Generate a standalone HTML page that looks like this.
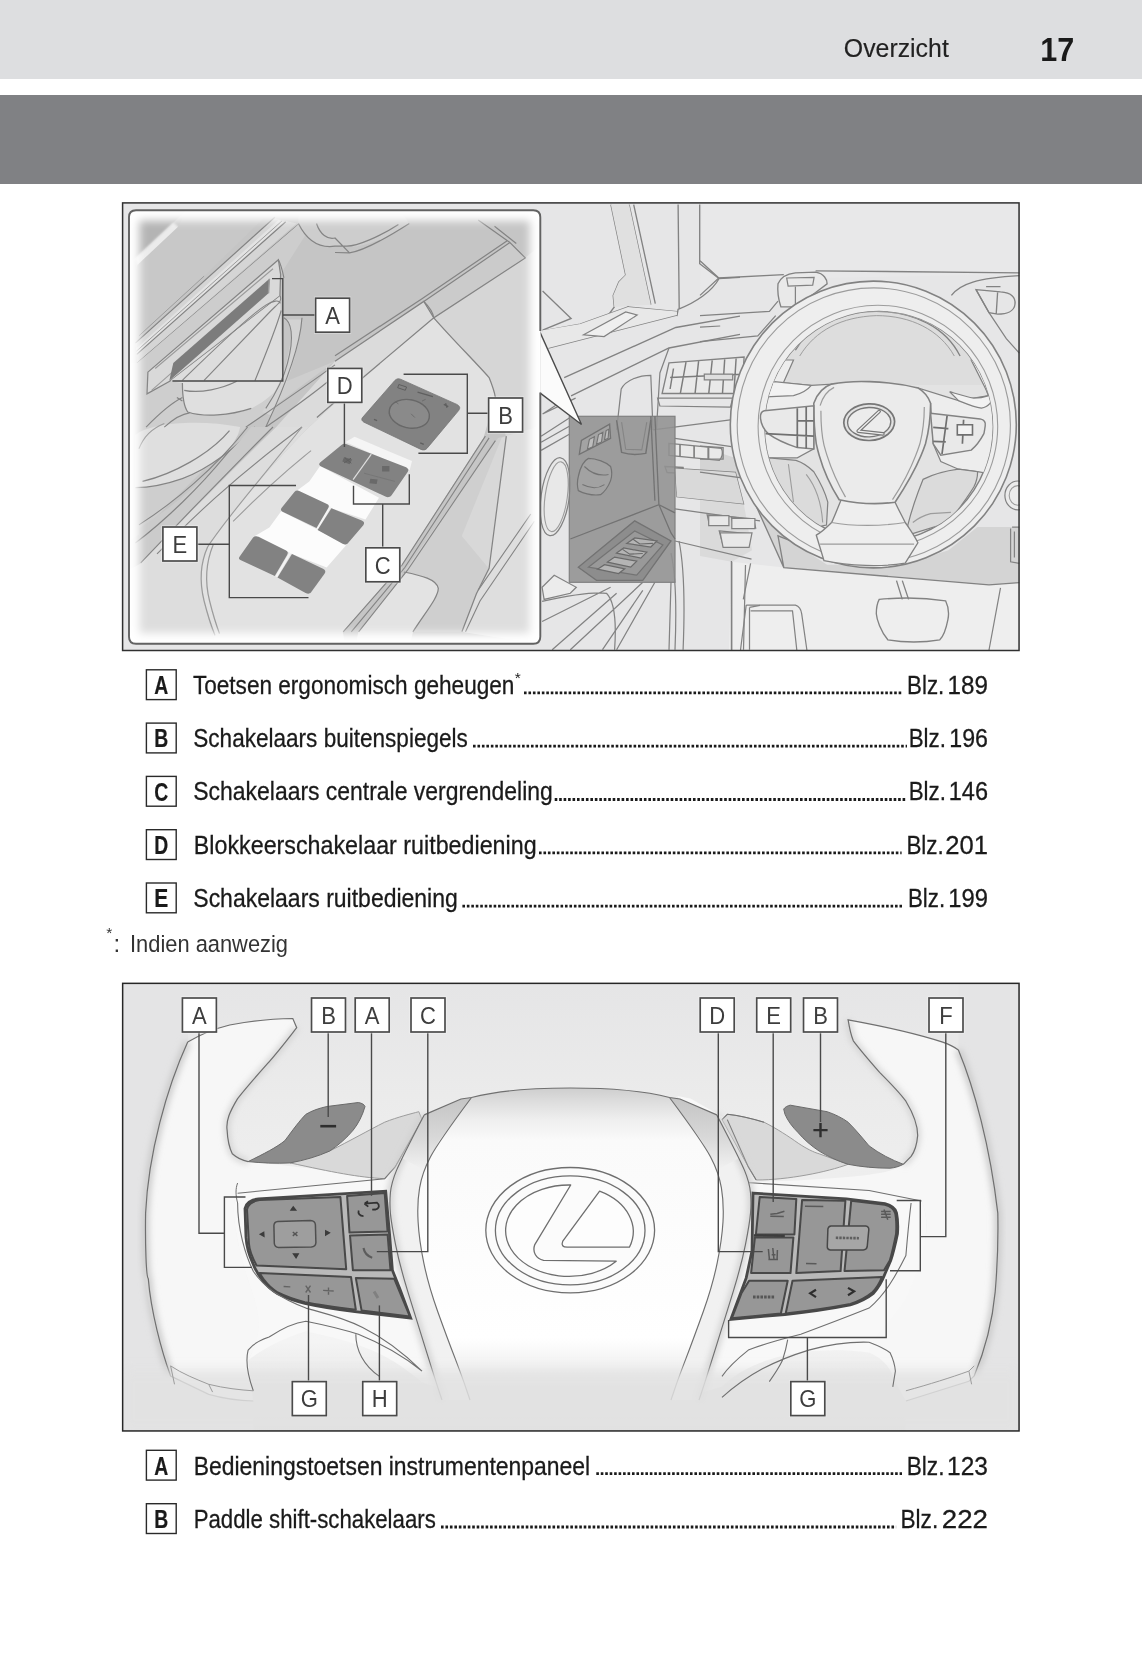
<!DOCTYPE html>
<html lang="nl">
<head>
<meta charset="utf-8">
<title>Overzicht 17</title>
<style>
html,body{margin:0;padding:0;background:#fff;}
body{width:1142px;height:1654px;position:relative;overflow:hidden;font-family:"Liberation Sans",sans-serif;color:#1a1a1a;}
.hdr1{position:absolute;left:0;top:0;width:1142px;height:78.6px;background:#dddee0;}
.hdr2{position:absolute;left:0;top:94.5px;width:1142px;height:89px;background:#808184;}
.fig{position:absolute;left:120px;width:902px;height:452px;}
.fig svg{display:block;}
#fig1{top:201px;}
#fig2{top:981px;}
</style>
</head>
<body>
<div class="hdr1"></div>
<div class="hdr2"></div>

<div class="fig" id="fig1">
<svg width="902" height="452" viewBox="120 201 902 452">
<rect x="122.6" y="202.9" width="896.45" height="447.6" fill="#e6e6e7"/>
<!--FIG1-->
<defs>
<clipPath id="f1clip"><rect x="122.6" y="202.9" width="896.45" height="447.6"/></clipPath>
<clipPath id="insclip"><rect x="129" y="210.3" width="411.3" height="433.4" rx="7" ry="7"/></clipPath>
<filter id="b2" x="-20%" y="-20%" width="140%" height="140%"><feGaussianBlur stdDeviation="2"/></filter>
<filter id="b4" x="-20%" y="-20%" width="140%" height="140%"><feGaussianBlur stdDeviation="4"/></filter>
<filter id="b1" x="-20%" y="-20%" width="140%" height="140%"><feGaussianBlur stdDeviation="1"/></filter>
<filter id="soft1" x="118" y="199" width="906" height="456" filterUnits="userSpaceOnUse"><feGaussianBlur stdDeviation="0.45"/></filter>
</defs>
<g clip-path="url(#f1clip)"><g filter="url(#soft1)">
<path d="M 702.1 203.7 L 1020.9 203.7 L 1020.9 274.2 L 775.0 278.8 L 720.4 276.5 L 699.9 294.7 Z" fill="#e8e8e9"/>
<path d="M 731.8 561.8 L 783.8 567.6 L 989.0 584.9 L 1019.3 582.6 L 1019.3 651.4 L 728.9 651.4 Z" fill="#eeeeee"/>
<path d="M 700.0 472.2 L 743.3 478.0 L 757.8 509.8 L 783.8 567.6 L 989.0 584.9 L 1019.3 582.6 L 1019.3 527.1 L 977.4 527.1 L 948.5 550.3 L 902.3 564.7 L 827.1 564.7 L 786.7 538.7 L 752.0 495.4 L 734.7 457.8 L 700.0 446.2 Z" fill="#d4d4d4"/>
<path d="M 700.0 495.4 L 743.3 501.1 L 752.0 550.3 L 731.8 561.8 L 700.0 556.0 Z" fill="#dadada"/>
<path d="M 700.0 260.7 L 718.8 278.0 L 783.8 274.6 M 815.6 270.8 L 1019.3 272.8" fill="none" stroke="#828282" stroke-width="1.34"/>
<path d="M 778.0 283.8 C 780.9 276.6 786.7 273.7 795.4 272.8 L 815.6 272.2 C 824.3 273.7 827.1 279.5 827.1 283.8 L 815.6 292.5 L 795.4 306.9 L 780.9 306.9 C 778.0 298.2 777.4 289.6 778.0 283.8 Z" fill="#e9e9e9" stroke="#828282" stroke-width="1.34"/>
<path d="M 786.7 278.0 L 814.1 277.4 L 812.7 285.2 L 788.1 286.1 Z M 795.4 286.7 L 795.4 306.3" fill="none" stroke="#828282" stroke-width="1.22"/>
<path d="M 951.4 295.4 C 960.1 283.8 977.4 278.0 1019.3 275.7 M 976.0 289.6 L 1000.5 291.9 C 1012.1 292.5 1015.6 298.2 1015.0 304.0 C 1014.4 311.3 1006.3 314.1 997.6 314.1 L 989.0 312.7 Z M 997.6 292.5 L 996.2 314.1" fill="none" stroke="#828282" stroke-width="1.34"/>
<path d="M 976.0 289.6 L 989.0 312.7 L 1006.3 338.7 L 1019.3 353.2 M 986.1 286.7 L 1000.5 286.7" fill="none" stroke="#828282" stroke-width="1.22"/>
<path d="M 700.0 315.6 L 769.4 311.3 L 778.0 301.1 M 700.0 327.1 L 720.2 326.0 M 700.0 341.6 L 757.8 335.8 L 775.7 315.6 M 718.8 278.0 L 700.0 295.4" fill="none" stroke="#828282" stroke-width="1.22"/>
<path d="M 610.9 204.6 L 625.7 275.1 L 618.9 282.0 L 613.2 295.6 L 614.3 307.0 L 607.5 316.1 M 629.1 204.6 L 650.8 304.7 M 633.7 204.6 L 655.3 303.6 M 625.7 275.1 L 631.4 279.7 L 628.0 307.0" fill="none" stroke="#828282" stroke-width="1.34"/>
<path d="M 678.1 204.6 L 679.2 309.3 M 699.7 204.6 L 699.7 263.7 L 719.1 278.5 L 740.0 277.4 M 719.1 278.5 C 712.2 291.1 696.3 302.5 678.1 309.3 L 676.9 316.1" fill="none" stroke="#828282" stroke-width="1.34"/>
<path d="M 610.9 204.6 L 625.7 275.1 L 618.9 282.0 L 613.2 295.6 L 614.3 307.0 L 650.8 304.7 L 629.1 204.6 Z" fill="#e0e0e0"/>
<path d="M 542.6 291.1 L 571.1 318.4 L 542.6 330.2 M 542.6 330.9 L 580.2 324.1 L 628.0 307.0 L 676.9 311.6 M 548.3 348.0 L 676.9 315.0 M 564.2 377.6 L 675.8 327.5 L 740.0 316.1 M 571.1 395.8 L 669.0 348.0 L 740.0 334.3" fill="none" stroke="#828282" stroke-width="1.34"/>
<path d="M 542.6 330.2 L 580.2 324.1 L 628.0 307.0 L 676.9 311.6 L 676.9 315.0 L 548.3 348.0 L 542.6 348.0 Z" fill="#e8e8e8"/>
<path d="M 583.6 334.8 L 625.7 312.0 L 637.1 315.0 L 604.1 336.6 Z" fill="#efefef" stroke="#828282" stroke-width="1.22"/>
<path d="M 542.6 414.0 L 556.3 404.9 L 542.6 393.1 M 542.6 414.0 L 575.6 398.1" fill="none" stroke="#828282" stroke-width="1.22"/>
<path d="M 616.6 429.9 L 621.2 389.0 C 625.7 379.9 639.4 375.3 650.8 375.3 L 653.0 429.9 M 656.4 429.9 L 659.9 373.0 L 669.0 348.0" fill="none" stroke="#828282" stroke-width="1.22"/>
<path d="M 669.0 362.8 L 744.1 357.1 L 741.8 393.5 L 662.1 393.5 Z" fill="#e9e9e9" stroke="#828282" stroke-width="1.34"/>
<path d="M 673.5 368.5 L 670.1 389.0 M 686.0 362.1 L 680.4 393.1 M 698.6 361.2 L 695.1 393.1 M 712.2 360.3 L 708.8 393.1 M 724.7 359.4 L 722.5 393.1 M 736.1 358.5 L 733.9 393.1 M 670.1 377.6 L 743.0 374.2" fill="none" stroke="#7c7c7c" stroke-width="1.46"/>
<path d="M 704.3 374.2 L 732.7 374.2 L 732.7 379.9 L 704.3 379.9 Z" fill="#dedede" stroke="#828282" stroke-width="1.22"/>
<path d="M 657.6 398.1 L 732.7 398.1 L 730.4 407.2 L 659.9 406.0 Z M 653.0 429.9 L 740.0 418.6" fill="none" stroke="#828282" stroke-width="1.22"/>
<path d="M 669.0 443.3 L 721.3 448.3 C 723.3 452.4 722.3 457.4 719.3 460.4 L 669.0 455.4 Z" fill="#e9e9e9" stroke="#828282" stroke-width="1.34"/>
<path d="M 680.0 444.7 L 680.0 456.4 M 694.1 445.9 L 694.1 458.0 M 708.2 447.3 L 708.2 459.2" fill="none" stroke="#7c7c7c" stroke-width="1.59"/>
<path d="M 664.9 466.5 L 683.1 467.5 L 684.1 473.5 L 667.0 472.5 Z M 675.0 468.5 L 735.4 472.5 L 743.5 503.7 L 677.0 496.7 Z" fill="none" stroke="#828282" stroke-width="1.34"/>
<path d="M 675.0 468.5 L 735.4 472.5 L 743.5 503.7 L 677.0 496.7 Z" fill="#d9d9d9"/>
<path d="M 707.2 514.8 L 727.4 515.8 L 728.4 524.9 L 709.2 523.9 Z M 731.4 516.8 L 753.6 518.8 L 755.6 527.9 L 733.4 525.9 Z M 719.3 530.9 L 749.5 533.9 L 747.5 547.0 L 723.3 546.0 Z" fill="#e9e9e9" stroke="#828282" stroke-width="1.34"/>
<path d="M 675.0 438.3 L 731.4 446.7 M 675.0 508.8 L 760.0 520.8 M 675.0 541.0 L 751.5 559.1" fill="none" stroke="#828282" stroke-width="1.22"/>
<path d="M 541.1 442.3 L 569.3 426.2 M 541.1 436.3 L 569.3 418.1 M 541.1 450.4 L 569.3 434.2" fill="none" stroke="#828282" stroke-width="1.22"/>
<ellipse cx="555.2" cy="496.7" rx="14.1" ry="39.3" fill="#e8e8e8" transform="rotate(8 555.2 496.7)" stroke="#828282" stroke-width="1.22"/>
<ellipse cx="556.2" cy="496.7" rx="11.1" ry="35.2" fill="none" transform="rotate(8 556.2 496.7)" stroke="#9c9c9c" stroke-width="1.1"/>
<path d="M 542.1 587.3 L 554.2 575.2 L 576.3 587.3 L 570.3 593.3 L 544.1 599.4 Z" fill="#ececec" stroke="#828282" stroke-width="1.22"/>
<path d="M 542.1 621.5 L 610.6 587.3 M 542.1 601.4 C 560.2 597.4 590.4 591.3 606.5 593.3 C 614.6 601.4 616.6 621.5 614.6 649.7 M 552.2 649.7 L 616.6 593.3 M 570.3 649.7 L 642.8 582.3" fill="none" stroke="#828282" stroke-width="1.22"/>
<path d="M 616.6 649.7 L 654.9 582.3 M 602.5 649.7 L 642.8 590.3 M 669.0 649.7 L 671.0 582.3 M 683.1 649.7 C 685.1 601.4 683.1 561.1 679.0 541.0 M 675.0 649.7 C 677.0 601.4 675.0 571.2 671.0 553.1" fill="none" stroke="#828282" stroke-width="1.22"/>
<path d="M 731.4 649.7 L 731.4 561.1 M 743.5 649.7 L 745.5 565.1 M 749.5 607.4 L 760.0 605.4 M 749.5 649.7 L 749.5 607.4" fill="none" stroke="#828282" stroke-width="1.22"/>
<path d="M 708.7 515.6 L 728.9 515.6 L 728.9 525.7 L 708.7 525.7 Z M 731.8 518.5 L 754.9 518.5 L 754.9 528.6 L 731.8 528.6 Z M 720.2 532.9 L 752.0 532.9 L 749.1 547.4 L 723.1 547.4 Z" fill="#e8e8e8" stroke="#828282" stroke-width="1.22"/>
<path d="M 700.0 446.2 L 723.1 447.7 L 723.1 459.2 L 700.0 459.2 M 708.7 447.7 L 708.7 459.2 M 700.0 472.2 L 743.3 478.0 L 757.8 509.8 L 783.8 567.6 L 989.0 584.9 L 1019.3 582.6 M 783.8 567.6 L 778.0 535.8 L 815.6 550.3" fill="none" stroke="#828282" stroke-width="1.34"/>
<path d="M 879.2 599.4 C 902.3 597.1 928.3 598.2 945.6 600.8 C 949.1 608.1 949.1 613.8 947.9 619.6 C 945.6 631.2 942.7 637.0 939.8 639.8 C 922.5 642.7 902.3 642.2 887.8 639.8 C 880.6 631.2 876.8 619.6 876.3 613.8 C 876.3 606.6 877.7 602.3 879.2 599.4 Z" fill="#eeeeee" stroke="#828282" stroke-width="1.34"/>
<path d="M 896.5 580.6 L 902.3 599.4 M 902.3 580.6 L 908.6 599.4" fill="none" stroke="#828282" stroke-width="1.34"/>
<path d="M 746.2 605.2 L 795.4 605.2 C 799.7 606.6 801.1 609.5 801.7 613.8 L 806.9 650.0 M 746.2 605.2 L 740.5 650.0 M 731.8 561.8 L 731.8 650.0 M 750.6 563.3 L 743.3 599.4 M 750.6 610.9 L 792.5 610.9 L 796.8 650.0" fill="none" stroke="#828282" stroke-width="1.22"/>
<path d="M 989.0 650.0 L 1000.5 587.8 M 1010.6 528.6 L 1010.6 561.8 L 1019.3 563.3 M 1012.1 527.1 L 1019.3 527.1 M 1014.4 531.5 L 1014.4 557.5" fill="none" stroke="#828282" stroke-width="1.22"/>
<ellipse cx="1017.9" cy="495.4" rx="13.0" ry="14.4" fill="#ebebeb" stroke="#828282" stroke-width="1.22"/>
<ellipse cx="1017.9" cy="495.4" rx="8.7" ry="9.8" fill="none" stroke="#9c9c9c" stroke-width="1.1"/>
<ellipse cx="873.3" cy="424.5" rx="143.0" ry="143.4" fill="#eeeeee" stroke="#828282" stroke-width="1.59"/>
<ellipse cx="873.8" cy="425.0" rx="136.6" ry="137.1" fill="none" stroke="#9c9c9c" stroke-width="1.1"/>
<ellipse cx="878.8" cy="426.8" rx="113.8" ry="115.2" fill="#e3e3e3" stroke="#828282" stroke-width="1.46"/>
<ellipse cx="877.9" cy="426.3" rx="119.8" ry="121.1" fill="none" stroke="#9c9c9c" stroke-width="1.1"/>
<clipPath id="innerw"><ellipse cx="878.8" cy="426.8" rx="113.8" ry="115.2" fill="none"/></clipPath>
<g clip-path="url(#innerw)">
<path d="M 743.3 384.9 L 743.3 286.7 L 1017.9 286.7 L 1017.9 384.9 Z" fill="#dddddd"/>
<path d="M 795.4 350.3 C 809.8 324.3 838.7 311.3 876.3 311.3 C 913.8 311.3 945.6 327.1 960.1 356.0" fill="none" stroke="#828282" stroke-width="1.34"/>
<path d="M 799.7 356.0 C 815.6 330.0 841.6 317.0 876.3 315.6 C 910.9 315.6 939.8 330.0 954.3 356.0" fill="none" stroke="#9c9c9c" stroke-width="0.98"/>
<path d="M 730.0 375.2 L 763.0 360.0 L 793.5 360.0 L 783.3 382.9 L 811.3 385.4 L 831.6 384.1 L 813.8 404.4 L 813.8 448.9 L 797.3 457.8 L 769.4 457.8 L 761.7 460.3 L 730.0 466.7 Z" fill="#ededed" stroke="#828282" stroke-width="1.22"/>
<path d="M 1020.0 375.2 L 1004.3 360.0 L 971.2 360.0 L 989.0 395.6 L 958.5 400.6 L 917.9 387.9 L 930.6 403.2 L 933.2 443.8 L 940.8 461.6 L 958.5 469.2 L 977.6 471.7 L 1020.0 479.4 Z" fill="#ededed" stroke="#828282" stroke-width="1.22"/>
<path d="M 760.5 384.1 C 765.6 381.6 770.6 381.6 774.4 381.6 L 811.3 385.4 C 806.2 391.7 798.6 394.3 793.5 395.6 L 765.6 396.8 C 761.7 394.3 760.5 390.5 760.5 384.1 Z" fill="#f2f2f2" stroke="#828282" stroke-width="1.22"/>
<path d="M 949.7 391.7 C 958.5 394.3 966.2 396.8 973.8 398.1 C 980.1 398.1 985.2 396.8 989.0 395.6 C 991.1 398.1 991.1 400.6 990.3 403.2 C 987.7 406.2 985.2 407.7 981.4 408.2 C 973.8 407.0 966.2 403.7 958.5 400.6 Z" fill="#f2f2f2" stroke="#828282" stroke-width="1.22"/>
<path d="M 761.7 460.3 L 769.4 457.8 L 796.0 460.3 C 803.6 462.8 810.0 467.9 813.8 471.7 C 820.1 481.9 825.2 492.0 827.8 502.2 L 826.5 525.1 L 813.8 527.6 C 803.6 520.0 796.0 511.1 790.9 502.2 C 778.2 489.5 768.1 474.3 761.7 460.3 Z" fill="#dbdbdb" stroke="#828282" stroke-width="1.22"/>
<path d="M 788.4 464.1 L 793.5 502.2 M 806.2 474.3 C 816.3 487.0 821.4 502.2 822.7 522.5" fill="none" stroke="#9c9c9c" stroke-width="1.1"/>
<path d="M 907.8 525.1 C 911.6 509.8 917.9 492.0 923.0 479.4 C 933.2 474.3 948.4 470.5 958.5 469.2 L 977.6 471.7 C 977.6 478.1 975.8 483.2 973.8 487.0 C 966.2 499.7 956.0 512.4 948.4 522.5 L 907.8 535.2 Z" fill="#dbdbdb" stroke="#828282" stroke-width="1.22"/>
<path d="M 912.8 522.5 C 919.2 517.4 925.5 514.9 930.6 513.6 L 950.9 512.4" fill="none" stroke="#9c9c9c" stroke-width="1.1"/>
</g>
<path d="M 841.7 498.4 C 837.9 507.3 834.6 516.2 831.6 522.5 C 826.5 527.6 821.4 532.2 816.3 535.2 L 824.0 560.6 C 849.4 566.2 882.4 567.0 905.2 563.2 L 917.9 542.8 C 914.1 535.2 909.0 528.1 905.2 522.5 C 901.4 514.9 897.6 507.8 895.1 502.2 Z" fill="#eeeeee" stroke="#828282" stroke-width="1.34"/>
<path d="M 831.6 522.5 C 851.9 526.3 882.4 526.3 905.2 522.5 M 820.1 544.1 L 914.1 544.1" fill="none" stroke="#9c9c9c" stroke-width="1.1"/>
<path d="M 813.8 403.2 C 817.6 393.0 824.0 386.7 831.6 384.1 C 844.3 381.6 857.0 381.1 869.7 381.6 C 887.4 382.3 905.2 384.9 917.9 387.9 C 924.3 391.7 928.6 397.6 930.6 403.2 C 930.6 418.4 928.1 433.6 925.5 443.8 C 917.9 466.7 905.2 487.0 895.1 502.2 C 877.3 504.7 857.0 503.5 839.2 499.7 C 827.8 481.9 820.1 461.6 816.3 443.8 C 814.3 431.1 813.8 415.9 813.8 403.2 Z" fill="#ebebeb" stroke="#828282" stroke-width="1.59"/>
<path d="M 820.1 405.7 C 822.7 396.8 827.8 390.5 834.1 387.4 M 820.9 410.8 C 820.9 423.5 821.9 436.2 824.0 445.1 C 829.0 464.1 836.7 481.9 845.5 497.1 M 924.3 407.0 C 924.3 420.9 922.5 433.6 919.9 443.8 C 913.3 464.1 902.7 484.4 892.5 499.7" fill="none" stroke="#9c9c9c" stroke-width="1.22"/>
<path d="M 760.5 418.4 C 760.0 413.8 761.0 411.8 764.3 410.8 L 813.8 405.7 L 813.8 448.9 L 797.3 447.6 C 785.9 443.8 775.7 439.2 768.1 433.6 C 763.5 429.1 761.0 423.5 760.5 418.4 Z" fill="#e9e9e9" stroke="#828282" stroke-width="1.46"/>
<path d="M 930.6 413.3 L 980.1 418.9 C 984.4 419.9 986.0 422.0 985.2 426.0 C 984.7 429.1 984.4 431.6 983.9 433.6 C 980.1 440.8 975.8 446.3 971.2 450.1 L 940.8 455.2 L 933.2 443.8 Z" fill="#e9e9e9" stroke="#828282" stroke-width="1.46"/>
<path d="M 797.3 408.2 L 797.3 447.6 M 806.2 407.0 L 806.2 448.4 M 797.3 420.9 L 813.8 420.9 M 765.6 433.6 L 813.8 436.2" fill="none" stroke="#707070" stroke-width="1.71"/>
<path d="M 947.1 415.9 L 942.0 454.0 M 933.2 427.3 L 948.4 428.6 M 933.2 441.3 L 945.8 441.8 M 963.6 419.7 L 962.4 443.8" fill="none" stroke="#707070" stroke-width="1.71"/>
<path d="M 957.3 424.8 L 972.5 424.8 L 972.5 434.9 L 957.3 434.9 Z" fill="#f3f3f3" stroke="#707070" stroke-width="1.59"/>
<ellipse cx="869.2" cy="422.2" rx="25.4" ry="18.3" fill="#e2e2e2" transform="rotate(-2 869.2 422.2)" stroke="#777" stroke-width="1.71"/>
<ellipse cx="869.2" cy="422.2" rx="21.6" ry="14.7" fill="#ececec" transform="rotate(-2 869.2 422.2)" stroke="#777" stroke-width="1.34"/>
<path d="M 879.1 411.5 L 858.2 431.1 L 882.9 433.9" fill="none" stroke="#777" stroke-width="3.66" stroke-linejoin="round" stroke-linecap="round"/>
<path d="M 879.1 411.5 L 858.2 431.1 L 882.9 433.9" fill="none" stroke="#eeeeee" stroke-width="1.34" stroke-linejoin="round" stroke-linecap="round"/>
<rect x="569.3" y="416.3" width="105.7" height="166" fill="#929292" fill-opacity="0.88" stroke="#808080" stroke-width="1.2"/>
<path d="M 579.3 454.4 L 581.4 440.3 L 609.6 424.2 L 610.6 438.3 Z" fill="#a3a3a3" stroke="#737373" stroke-width="1.34"/>
<path d="M 587.4 449.3 L 589.4 439.3 L 594.4 436.7 L 592.8 446.7 Z M 596.5 444.3 L 598.5 434.6 L 602.9 432.2 L 601.5 441.9 Z M 604.5 439.9 L 606.1 430.6 L 608.9 429.2 L 608.1 438.3 Z" fill="#bdbdbd" stroke="#737373" stroke-width="1.1"/>
<path d="M 616.6 420.1 L 621.6 452.4 C 628.7 454.8 638.8 454.8 645.8 453.4 L 650.8 420.1" fill="#9c9c9c" stroke="#737373" stroke-width="1.46"/>
<path d="M 621.6 422.2 L 625.7 449.3 L 641.8 449.9 L 646.8 422.2" fill="none" stroke="#858585" stroke-width="1.1"/>
<path d="M 578.3 476.5 C 580.4 466.5 584.4 460.4 588.4 458.4 C 596.5 458.4 606.5 462.4 610.6 466.5 C 612.6 472.5 611.6 477.5 610.6 480.6 C 607.5 488.6 603.5 492.6 600.5 494.7 C 592.4 495.7 584.4 493.7 578.3 490.6 C 576.7 484.6 577.3 480.6 578.3 476.5 Z" fill="#a2a2a2" stroke="#737373" stroke-width="1.22"/>
<path d="M 584.4 466.5 C 590.4 472.5 598.5 476.5 608.5 474.5 M 582.4 484.6 C 590.4 488.6 598.5 488.6 604.5 484.6" fill="none" stroke="#737373" stroke-width="1.1"/>
<path d="M 570.3 539.0 L 658.9 504.7 L 675.0 512.8 M 654.9 416.1 L 658.9 504.7 L 671.0 532.9 L 675.0 539.0 M 650.8 416.1 L 654.9 500.7" fill="none" stroke="#737373" stroke-width="1.34"/>
<path d="M 578.3 567.2 L 634.7 520.8 L 671.0 541.0 L 642.8 580.3 L 596.5 580.3 Z" fill="#8d8d8d" stroke="#737373" stroke-width="1.34"/>
<path d="M 588.4 567.2 L 634.7 530.9 L 662.9 545.0 L 636.7 575.2 Z" fill="#999999" stroke="#737373" stroke-width="1.22"/>
<path d="M 626.7 543.4 L 634.7 538.0 L 656.9 541.0 L 650.8 547.0 Z M 616.6 553.1 L 623.7 548.0 L 646.8 552.1 L 640.8 558.1 Z M 607.5 562.1 L 614.6 557.1 L 636.7 561.1 L 630.7 567.2 Z M 597.5 569.2 L 604.5 564.7 L 624.7 568.8 L 618.6 573.6 Z" fill="#b4b4b4" stroke="#6a6a6a" stroke-width="1.22"/>
<path d="M 632.7 539.0 L 639.8 544.0 L 652.9 543.4 M 622.6 549.4 L 629.7 554.1 L 642.8 553.5" fill="none" stroke="#6a6a6a" stroke-width="1.1"/>
<path d="M 538.2 331.2 L 581.5 424.5 L 538.2 392.6 Z" fill="#fbfbfb"/>
<path d="M 539.6 331.2 L 581.5 424.5 L 539.6 392.6" fill="none" stroke="#4a4a4a" stroke-width="1.4"/>
<g clip-path="url(#insclip)">
<rect x="128" y="209" width="414" height="436" fill="#c5c5c5"/>
<path d="M 128.0 364.5 C 171.4 353.7 222.0 328.3 247.3 313.9 L 283.5 382.6 L 334.9 361.3 L 247.3 426.0 L 138.8 534.5 L 128.0 541.7 Z" fill="#cecece"/>
<path d="M 135.2 435.0 C 149.7 422.4 200.3 418.8 240.1 427.1 C 236.5 447.7 211.2 469.4 182.2 479.5 C 164.2 485.7 146.1 487.5 135.2 487.5 Z" fill="#dfdfdf"/>
<path d="M 128.0 570.6 L 140.7 563.4 C 173.2 529.1 222.0 480.2 276.3 427.1 L 309.2 427.1 C 273.0 463.2 229.6 513.9 207.6 546.8 C 199.6 564.9 199.6 582.9 203.9 601.0 C 207.6 615.5 211.2 626.3 214.8 644.1 L 128.0 644.1 Z" fill="#dddddd"/>
<path d="M 334.9 361.3 L 423.8 301.6 L 433.6 317.9 L 363.8 376.8 L 309.2 427.1 L 276.3 427.1 Z" fill="#dbdbdb"/>
<path d="M 207.6 546.8 C 229.6 513.9 273.0 463.2 309.2 427.1 L 363.8 376.8 L 433.6 317.9 C 452.4 339.6 476.3 363.1 488.9 377.5 C 492.5 386.2 494.3 391.6 495.1 397.4 L 483.5 437.9 L 401.8 564.9 L 342.8 631.8 L 345.0 644.1 L 214.8 644.1 C 211.2 626.3 207.6 615.5 203.9 601.0 C 199.6 582.9 199.6 564.9 207.6 546.8 Z" fill="#e2e2e2"/>
<path d="M 423.8 301.6 L 509.9 242.6 L 525.1 257.8 L 433.6 317.9 Z" fill="#cbcbcb"/>
<path d="M 433.6 317.9 L 525.1 257.8 L 541.0 245.2 L 541.0 644.1 L 461.8 631.8 L 476.3 593.8 L 488.9 568.5 L 505.9 436.1 L 495.1 397.4 C 494.3 391.6 492.5 386.2 488.9 377.5 C 476.3 363.1 452.4 339.6 433.6 317.9 Z" fill="#d6d6d6"/>
<path d="M 342.8 631.8 L 401.8 564.9 L 483.5 437.9 L 494.3 437.9 L 407.6 570.3 L 358.4 631.8 Z" fill="#c6c6c6"/>
<path d="M 403.9 572.1 L 498.0 437.9 L 506.3 436.1 L 488.9 568.5 L 476.3 593.8 L 461.8 631.8 L 413.0 631.8 C 425.6 611.9 438.3 597.4 438.3 588.4 C 436.5 579.3 422.0 575.7 403.9 572.1 Z" fill="#cfcfcf"/>
<path d="M 488.9 568.5 L 506.3 436.1 L 501.6 437.9 L 461.8 535.9 Z" fill="#d8d8d8"/>
<path d="M 358.4 631.8 L 407.6 570.3 L 403.9 572.1 C 422.0 575.7 436.5 579.3 438.3 588.4 C 438.3 597.4 425.6 611.9 413.0 631.8 L 410.1 644.1 L 355.8 644.1 Z" fill="#e3e3e3"/>
<path d="M 506.3 436.1 L 541.0 426.0 L 541.0 644.1 L 461.8 631.8 L 476.3 593.8 L 488.9 568.5 Z" fill="#dedede"/>
<path d="M 128.0 209.0 L 187.8 209.0 L 135.3 257.9 L 128.0 263.4 Z" fill="#b4b4b4"/>
<path d="M 135.3 257.9 L 173.3 222.6 L 180.9 229.3 L 138.2 269.9 Z" fill="#ebebeb" filter="url(#b1)"/>
<path d="M 137.1 265.2 L 177.8 227.1 L 187.8 209.0 L 273.0 209.0 L 135.3 343.1 Z" fill="#c8c8c8"/>
<path d="M 135.3 343.1 L 273.0 218.1 L 296.6 223.5 L 137.1 363.1 Z" fill="#d5d5d5"/>
<path d="M 136.2 348.6 L 278.4 219.9 L 284.2 222.6 L 136.7 354.4 Z" fill="#e3e3e3"/>
<path d="M 135.3 343.1 L 274.8 217.2 M 136.7 354.4 L 285.7 221.7 M 137.1 363.1 L 298.4 224.4" fill="none" stroke="#848484" stroke-width="1.25"/>
<path d="M 138.9 335.9 L 204.1 276.1 M 136.3 351.3 L 282.1 220.8" fill="none" stroke="#9c9c9c" stroke-width="1.0"/>
<path d="M 137.1 363.1 L 298.4 224.4 L 309.3 228.9 L 280.6 274.3 L 278.4 259.8 L 147.9 372.1 L 147.0 393.9 L 128.0 408.4 L 128.0 372.1 Z" fill="#cdcdcd"/>
<path d="M 147.9 372.1 L 278.4 259.8 L 280.6 274.3 L 279.9 296.0 L 169.7 381.2 L 147.0 393.9 Z" fill="#d9d9d9" stroke="#848484" stroke-width="1.25"/>
<path d="M 155.2 368.5 L 273.0 268.8 M 151.6 390.3 L 172.4 372.1" fill="none" stroke="#9c9c9c" stroke-width="1.12"/>
<path d="M 170.6 380.8 L 280.3 296.0 L 282.1 380.8 Z" fill="#dddddd"/>
<path d="M 204.1 380.3 L 271.2 310.5 C 278.4 303.3 282.1 301.4 280.3 296.0 M 182.4 380.3 C 209.6 354.0 245.8 317.8 265.8 305.1 C 273.0 300.5 279.4 299.6 280.3 303.3 M 254.9 380.8 C 265.8 354.0 276.6 326.8 281.2 310.5" fill="none" stroke="#848484" stroke-width="1.12"/>
<path d="M 170.6 381.2 L 282.1 381.2 C 278.4 390.3 265.8 401.1 251.3 408.4 C 229.5 415.6 204.1 417.5 187.8 412.0 C 182.4 404.8 182.4 390.3 182.4 383.0 Z" fill="#dfdfdf"/>
<path d="M 182.4 383.0 C 182.4 390.3 182.4 404.8 187.8 412.0 C 204.1 417.5 229.5 415.6 251.3 408.4 M 176.9 397.5 L 182.4 401.1 M 184.2 390.3 C 200.5 393.9 222.3 388.4 236.8 381.2" fill="none" stroke="#848484" stroke-width="1.25"/>
<path d="M 285.7 319.6 C 292.0 325.0 292.9 339.5 285.7 364.9 C 282.1 379.4 273.0 395.7 262.1 412.0 L 271.2 415.6 C 287.5 386.6 300.2 346.8 301.1 319.6 Z" fill="#d3d3d3"/>
<path d="M 283.9 317.8 C 291.1 321.4 294.8 335.9 287.5 363.1 C 283.9 377.6 276.6 392.1 265.8 408.4 M 302.0 317.8 C 300.2 344.9 287.5 381.2 265.8 427.1 M 283.9 277.9 C 282.1 268.8 280.3 263.4 278.4 259.8" fill="none" stroke="#848484" stroke-width="1.12"/>
<path d="M 298.4 223.5 C 305.6 238.0 316.5 248.9 335.0 246.2 L 356.8 246.5 C 381.8 241.6 399.9 230.8 409.0 223.5 L 399.9 209.0 L 298.4 209.0 Z" fill="#cdcdcd"/>
<path d="M 298.4 223.5 C 305.6 238.0 316.5 248.9 335.0 246.2 L 345.9 246.2 C 356.8 246.7 380.3 236.2 398.4 224.4 M 316.5 223.5 C 320.1 234.4 327.4 239.8 335.0 238.0 L 349.5 252.9 M 335.0 252.5 L 349.5 252.9 C 364.0 250.7 389.4 236.2 409.3 223.5" fill="none" stroke="#848484" stroke-width="1.25"/>
<path d="M 146.1 427.1 C 164.3 408.4 175.1 401.1 182.4 397.5 M 164.3 427.1 C 175.1 417.5 182.4 413.8 189.6 412.9 M 245.8 427.1 C 273.0 408.4 300.2 390.3 335.0 364.9 M 265.8 427.1 C 287.5 412.0 309.3 397.5 335.0 375.8" fill="none" stroke="#848484" stroke-width="1.12"/>
<path d="M 423.8 301.4 L 509.9 242.5 L 525.3 257.9 L 433.8 317.8 Z" fill="none" stroke="#848484" stroke-width="1.25"/>
<path d="M 335.0 355.8 L 422.0 298.7 L 507.2 240.7 M 478.2 219.9 L 509.9 242.5 M 494.5 226.2 L 516.3 243.4" fill="none" stroke="#848484" stroke-width="1.25"/>
<path d="M 335.0 361.3 L 423.8 301.4 C 429.3 306.9 432.9 312.3 433.8 317.8 L 364.0 376.7 L 316.9 417.5" fill="none" stroke="#848484" stroke-width="1.25"/>
<path d="M 433.8 317.8 C 452.8 339.5 476.4 363.1 489.1 377.6 C 492.7 386.6 494.5 392.1 495.4 397.5" fill="none" stroke="#848484" stroke-width="1.25"/>
<path d="M 138.9 448.8 C 144.3 434.3 155.2 427.0 164.3 423.4" fill="none" stroke="#9c9c9c" stroke-width="1.12"/>
<path d="M 135.3 487.7 C 146.1 487.7 164.3 485.0 182.4 478.7 C 209.6 468.7 236.8 446.9 254.9 427.0 M 142.5 481.4 C 173.3 474.1 209.6 454.2 229.5 430.6" fill="none" stroke="#848484" stroke-width="1.25"/>
<path d="M 138.9 528.5 C 173.3 506.8 215.0 472.3 251.3 427.0 L 273.0 427.0 C 218.6 481.4 173.3 528.5 140.7 562.9 Z" fill="#cbcbcb"/>
<path d="M 138.9 524.9 C 173.3 503.1 215.0 468.7 247.6 427.0 M 140.7 562.9 C 173.3 528.5 218.6 481.4 273.0 427.0 M 157.0 553.9 C 182.4 528.5 222.3 486.8 302.0 427.0 M 135.3 543.0 C 164.3 521.3 200.5 486.8 229.5 450.6" fill="none" stroke="#848484" stroke-width="1.12"/>
<path d="M 207.8 546.6 C 199.6 564.8 199.6 582.9 204.1 601.0 C 207.8 615.5 211.4 626.4 215.0 635.5 M 213.2 544.8 C 205.0 564.8 205.0 582.9 209.6 601.0 C 213.2 615.5 216.8 626.4 219.5 633.6" fill="none" stroke="#9c9c9c" stroke-width="1.25"/>
<path d="M 207.8 546.6 C 229.5 514.0 254.9 486.8 302.0 427.0 M 233.1 521.3 C 254.9 499.5 283.9 472.3 311.1 450.6" fill="none" stroke="#9c9c9c" stroke-width="1.12"/>
<path d="M 343.2 631.8 L 402.1 564.8 L 485.4 436.1 M 358.6 631.8 L 407.5 570.2 L 495.4 440.6 M 351.3 631.8 L 404.8 567.5 L 489.1 437.9" fill="none" stroke="#848484" stroke-width="1.12"/>
<path d="M 403.9 572.0 C 422.0 575.6 436.5 579.3 438.3 588.3 C 438.3 597.4 425.6 611.9 412.9 631.8 M 506.3 436.1 L 489.1 568.4 L 476.4 593.8 L 461.9 631.8" fill="none" stroke="#848484" stroke-width="1.25"/>
<path d="M 530.8 514.0 L 478.2 590.1 M 534.4 521.3 L 480.0 601.0 L 465.5 631.8" fill="none" stroke="#848484" stroke-width="1.12"/>
<path d="M 320.1 466.0 L 379.0 497.7 L 365.5 519.4 L 331.4 508.2 L 329.0 506.0 L 297.1 490.4 L 309.3 481.4 Z" fill="#fbfbfb"/>
<path d="M 281.2 511.3 L 316.5 528.9 L 346.1 545.2 L 326.7 567.5 L 292.0 553.9 L 254.9 536.1 L 269.4 527.6 Z" fill="#fcfcfc"/>
<path d="M 330.3 506.4 L 317.1 529.2 M 290.2 553.0 L 276.3 576.7" fill="none" stroke="#f4f4f4" stroke-width="2.0"/>
<path d="M 345.5 442.0 L 354.6 436.8 L 412.0 461.1 L 409.7 470.2 Z" fill="#f5f5f5"/>
<path d="M 269.4 278.8 L 268.5 293.3 L 169.3 380.8 L 173.3 363.1 Z" fill="#7b7b7b"/>
<path d="M 269.4 278.8 L 268.5 293.3" fill="none" stroke="#9a9a9a" stroke-width="1.5"/>
<path d="M 394.8 380.5 C 396.6 378.7 398.8 378.3 401.0 379.4 L 456.8 404.4 C 460.1 406.2 460.4 408.0 458.6 410.6 L 427.4 447.9 C 425.6 450.1 423.5 450.4 420.9 449.4 L 364.0 422.2 C 361.5 420.7 361.1 418.9 362.9 417.1 Z" fill="#828282" stroke="#767676" stroke-width="0.8"/>
<ellipse cx="409.3" cy="413.8" rx="20.3" ry="14.1" fill="#8a8a8a" transform="rotate(12 409.3 413.8)" stroke="#676767" stroke-width="1.4"/>
<path d="M 398.8 384.5 L 406.6 387.0 L 405.3 390.3 L 397.7 387.7 Z" fill="none" stroke="#5f5f5f" stroke-width="1.0"/>
<path d="M 417.5 392.1 L 432.9 396.6 M 443.8 404.4 L 448.3 406.6 M 445.6 403.3 L 447.0 407.7 M 374.0 419.3 L 377.1 420.7 M 420.2 442.8 L 423.8 444.3" fill="none" stroke="#5f5f5f" stroke-width="1.3"/>
<path d="M 394.8 401.1 L 398.4 403.9 M 422.0 401.1 L 425.6 399.3 M 411.1 413.8 L 414.8 417.5" fill="none" stroke="#6c6c6c" stroke-width="1.0"/>
<path d="M 341.5 445.1 C 343.0 443.7 345.2 443.3 347.3 444.4 L 406.1 467.2 C 408.6 468.7 409.0 470.1 407.5 472.3 L 391.6 495.2 C 389.7 497.3 387.9 497.7 385.4 496.6 L 321.2 466.5 C 318.7 465.1 318.7 464.0 320.1 462.5 Z" fill="#828282"/>
<path d="M 371.3 454.2 L 353.1 479.6" fill="none" stroke="#dedede" stroke-width="1.2"/>
<path d="M 364.0 473.2 L 394.8 481.4" fill="none" stroke="#757575" stroke-width="0.9"/>
<path d="M 344.1 456.9 L 352.2 459.6 L 349.5 464.2 L 342.3 461.4 Z M 382.1 466.0 L 389.4 466.0 L 389.4 471.4 L 382.1 471.4 Z M 370.3 478.7 L 377.6 479.6 L 376.7 484.1 L 369.4 483.2 Z" fill="#696969"/>
<path d="M 345.0 457.8 L 351.3 463.3 M 351.0 458.2 L 344.1 462.9" fill="none" stroke="#5f5f5f" stroke-width="1.0"/>
<path d="M 294.4 491.9 C 295.8 490.4 297.7 490.1 299.8 491.2 L 327.0 503.9 C 329.2 504.9 329.2 506.4 328.1 508.2 L 316.5 528.1 L 282.1 511.5 C 280.6 510.4 280.6 509.3 281.7 507.8 Z" fill="#828282"/>
<path d="M 331.4 508.2 L 361.8 520.5 C 364.4 521.6 364.7 523.1 363.3 525.2 L 348.1 543.0 C 346.6 544.8 344.8 544.8 342.6 543.7 L 317.6 530.0 Z" fill="#828282"/>
<path d="M 253.1 537.6 C 254.5 536.1 256.3 535.8 258.5 536.8 L 286.1 550.6 C 288.2 551.7 288.2 553.2 287.1 555.0 L 274.8 576.0 L 240.4 560.0 C 238.6 559.0 238.6 557.9 239.7 556.4 Z" fill="#828282"/>
<path d="M 292.0 553.9 L 323.0 568.7 C 325.6 570.2 325.9 571.6 324.5 573.8 L 311.1 592.3 C 309.6 594.1 307.8 594.1 305.6 593.0 L 277.5 577.4 Z" fill="#828282"/>
<rect x="129" y="210.3" width="411.3" height="433.4" rx="7" ry="7" fill="none" stroke="#fff" stroke-width="21" filter="url(#b4)" opacity="1"/>
</g>
<path d="M 540.3 331 L 540.3 217.3 Q 540.3 210.3 533.3 210.3 L 136 210.3 Q 129 210.3 129 217.3 L 129 636.7 Q 129 643.7 136 643.7 L 533.3 643.7 Q 540.3 643.7 540.3 636.7 L 540.3 392.4" fill="none" stroke="#626262" stroke-width="1.9"/>
<path d="M 272 278.6 L 282.8 278.6 L 282.8 381 L 172.4 381 M 282.8 315 L 315 315" fill="none" stroke="#4a4a4a" stroke-width="1.4"/>
<path d="M 403.6 374.2 L 467.3 374.2 L 467.3 453.2 L 418.4 453.2 M 467.3 413.3 L 488.5 413.3" fill="none" stroke="#4a4a4a" stroke-width="1.4"/>
<path d="M 353.5 485.7 L 353.5 504 L 409.3 504 L 409.3 474.3 M 382.7 504 L 382.7 548" fill="none" stroke="#4a4a4a" stroke-width="1.4"/>
<path d="M 344.4 402 L 344.4 447" fill="none" stroke="#4a4a4a" stroke-width="1.4"/>
<path d="M 296 485.5 L 229.3 485.5 L 229.3 597.6 L 308.5 597.6 M 197.4 544.3 L 229.3 544.3" fill="none" stroke="#4a4a4a" stroke-width="1.4"/>
<rect x="314.1" y="296.7" width="37.0" height="37.0" fill="#fff" opacity="0.55"/><rect x="315.6" y="298.2" width="34.0" height="34.0" fill="#fff" stroke="#4c4c4c" stroke-width="1.7"/><text transform="translate(332.6 324.0) scale(0.9 1)" x="0" y="0" font-size="24.5" text-anchor="middle" fill="#3c3c3c" font-family="'Liberation Sans', sans-serif">A</text>
<rect x="487.1" y="396.5" width="37.0" height="37.0" fill="#fff" opacity="0.55"/><rect x="488.6" y="398.0" width="34.0" height="34.0" fill="#fff" stroke="#4c4c4c" stroke-width="1.7"/><text transform="translate(505.6 423.8) scale(0.9 1)" x="0" y="0" font-size="24.5" text-anchor="middle" fill="#3c3c3c" font-family="'Liberation Sans', sans-serif">B</text>
<rect x="364.3" y="546.3" width="37.0" height="37.0" fill="#fff" opacity="0.55"/><rect x="365.8" y="547.8" width="34.0" height="34.0" fill="#fff" stroke="#4c4c4c" stroke-width="1.7"/><text transform="translate(382.8 573.6) scale(0.9 1)" x="0" y="0" font-size="24.5" text-anchor="middle" fill="#3c3c3c" font-family="'Liberation Sans', sans-serif">C</text>
<rect x="326.3" y="366.9" width="37.0" height="37.0" fill="#fff" opacity="0.55"/><rect x="327.8" y="368.4" width="34.0" height="34.0" fill="#fff" stroke="#4c4c4c" stroke-width="1.7"/><text transform="translate(344.8 394.2) scale(0.9 1)" x="0" y="0" font-size="24.5" text-anchor="middle" fill="#3c3c3c" font-family="'Liberation Sans', sans-serif">D</text>
<rect x="161.4" y="525.5" width="37.0" height="37.0" fill="#fff" opacity="0.55"/><rect x="162.9" y="527.0" width="34.0" height="34.0" fill="#fff" stroke="#4c4c4c" stroke-width="1.7"/><text transform="translate(179.9 552.8) scale(0.9 1)" x="0" y="0" font-size="24.5" text-anchor="middle" fill="#3c3c3c" font-family="'Liberation Sans', sans-serif">E</text>
</g></g>
<!--/FIG1-->
<rect x="122.6" y="202.9" width="896.45" height="447.6" fill="none" stroke="#303030" stroke-width="1.5"/>
</svg>
</div>



<div class="fig" id="fig2">
<svg width="902" height="452" viewBox="120 981 902 452">
<rect x="122.6" y="983.35" width="896.45" height="447.6" fill="#e6e6e7"/>
<!--FIG2-->
<defs>
<clipPath id="f2clip"><rect x="122.6" y="983.35" width="896.45" height="447.6"/></clipPath>
<filter id="soft2" x="118" y="979" width="906" height="456" filterUnits="userSpaceOnUse"><feGaussianBlur stdDeviation="0.4"/></filter>
<filter id="c1" x="-20%" y="-20%" width="140%" height="140%"><feGaussianBlur stdDeviation="1.2"/></filter>
<filter id="c3" x="-20%" y="-20%" width="140%" height="140%"><feGaussianBlur stdDeviation="3"/></filter>
<filter id="c6" x="-20%" y="-20%" width="140%" height="140%"><feGaussianBlur stdDeviation="6"/></filter>
<linearGradient id="hubg" x1="0" y1="0" x2="0" y2="1"><stop offset="0" stop-color="#cecece"/><stop offset="0.04" stop-color="#dcdcdc"/><stop offset="0.1" stop-color="#eeeeee"/><stop offset="0.17" stop-color="#fafafa"/><stop offset="0.8" stop-color="#ffffff"/><stop offset="0.9" stop-color="#f0f0f0"/><stop offset="1" stop-color="#e2e2e2"/></linearGradient>
<linearGradient id="facg" x1="0" y1="0" x2="0" y2="1"><stop offset="0" stop-color="#c4c4c4"/><stop offset="0.55" stop-color="#d8d8d8"/><stop offset="1" stop-color="#f2f2f2"/></linearGradient>
<linearGradient id="bgg" x1="0" y1="0" x2="0" y2="1"><stop offset="0" stop-color="#e5e5e6"/><stop offset="0.25" stop-color="#ebebeb"/><stop offset="0.8" stop-color="#f4f4f4"/><stop offset="0.93" stop-color="#e4e4e4"/><stop offset="1" stop-color="#e0e0e0"/></linearGradient>
</defs>
<g clip-path="url(#f2clip)"><g filter="url(#soft2)">
<rect x="122" y="983" width="898" height="448" fill="url(#bgg)"/>
<path d="M 122.0 983.0 L 190.3 983.0 L 187.7 1042.1 C 166.7 1088.1 148.3 1153.8 145.6 1213.1 L 145.6 1279.8 C 148.3 1311.4 161.4 1350.8 170.6 1377.0 L 208.7 1395.4 L 253.3 1403.3 L 253.3 1445.3 L 122.0 1445.3 Z" fill="#e4e4e5"/>
<path d="M 1022.0 983.0 L 958.4 983.0 L 958.4 1050.0 C 974.2 1088.1 990.0 1145.9 997.8 1213.1 L 996.5 1293.0 C 992.6 1324.5 984.7 1356.0 974.2 1377.0 L 905.9 1403.3 L 905.9 1445.3 L 1022.0 1445.3 Z" fill="#e4e4e5"/>
<path d="M 187.7 1042.1 C 200.8 1034.2 216.6 1028.2 229.7 1025.0 C 250.7 1021.1 274.4 1018.5 292.8 1018.5 L 296.7 1027.7 C 287.5 1039.5 279.6 1050.0 269.1 1061.8 C 258.6 1073.6 246.8 1086.8 237.6 1098.6 C 229.7 1111.7 225.8 1120.9 227.1 1130.1 C 227.6 1140.6 229.7 1148.5 232.3 1153.8 C 237.6 1158.5 242.8 1160.6 248.1 1161.6 C 305.9 1166.9 332.2 1172.1 384.7 1178.7 L 237.6 1193.2 C 232.3 1201.0 231.0 1219.4 245.5 1272.0 C 253.3 1298.2 269.1 1324.5 248.1 1360.2 L 253.3 1401.0 C 237.6 1400.7 221.8 1398.1 208.7 1394.4 L 170.6 1376.0 C 161.4 1349.7 148.3 1278.8 148.3 1278.8 C 145.6 1245.7 145.6 1229.9 145.6 1213.1 C 148.3 1153.8 166.7 1088.1 187.7 1042.1 Z" fill="#f7f7f7"/>
<path d="M 187.7 1042.1 C 166.7 1088.1 148.3 1153.8 145.6 1213.1 C 145.1 1245.7 146.2 1277.2 148.3 1278.8 C 150.9 1311.4 161.4 1350.8 170.6 1376.0" fill="none" stroke="#c9c9c9" stroke-width="7" filter="url(#c3)"/>
<path d="M 296.7 1027.7 C 287.5 1039.5 279.6 1050.0 269.1 1061.8 C 258.6 1073.6 246.8 1086.8 237.6 1098.6 C 229.7 1111.7 225.8 1120.9 227.1 1130.1 C 227.6 1140.6 229.7 1148.5 232.3 1153.8 C 237.6 1158.5 242.8 1160.6 248.1 1161.6" fill="none" stroke="#cfcfcf" stroke-width="5" filter="url(#c3)"/>
<path d="M 187.7 1042.1 C 200.8 1034.2 216.6 1028.2 229.7 1025.0 C 250.7 1021.1 274.4 1018.5 292.8 1018.5 L 296.7 1027.7 C 287.5 1039.5 279.6 1050.0 269.1 1061.8 C 258.6 1073.6 246.8 1086.8 237.6 1098.6 C 229.7 1111.7 225.8 1120.9 227.1 1130.1 C 227.6 1140.6 229.7 1148.5 232.3 1153.8 C 237.6 1158.5 242.8 1160.6 248.1 1161.6 M 187.7 1042.1 C 166.7 1088.1 148.3 1153.8 145.6 1213.1 C 145.1 1245.7 146.2 1277.2 148.3 1278.8 C 150.9 1311.4 161.4 1350.8 170.6 1376.0 L 208.7 1394.4 C 221.8 1398.1 237.6 1400.7 253.3 1401.0" fill="none" stroke="#6f6f6f" stroke-width="1.2"/>
<path d="M 958.4 1050.0 C 953.2 1046.0 947.9 1043.9 942.7 1042.1 C 926.9 1036.9 905.9 1030.3 848.1 1019.8 C 849.4 1027.7 850.7 1034.2 853.3 1040.8 C 861.2 1051.3 870.4 1061.8 879.6 1072.3 C 890.1 1082.8 899.3 1092.0 905.9 1101.2 C 913.8 1114.3 917.7 1124.9 917.7 1135.4 C 916.9 1144.6 915.1 1151.1 911.1 1156.4 L 903.3 1164.3 C 892.8 1172.1 879.6 1177.4 748.3 1182.6 L 869.1 1190.5 L 921.6 1201.0 C 929.5 1219.4 929.5 1245.7 911.1 1266.7 C 892.8 1298.2 869.1 1316.6 827.1 1329.8 L 869.1 1352.4 C 884.9 1358.7 892.8 1371.8 895.4 1382.3 L 905.9 1401.0 L 968.9 1381.2 L 974.2 1376.0 C 984.7 1350.8 992.6 1319.3 995.2 1291.9 C 997.3 1266.7 998.4 1240.4 997.8 1213.1 C 990.0 1145.9 974.2 1088.1 958.4 1050.0 Z" fill="#f7f7f7"/>
<path d="M 958.4 1050.0 C 974.2 1088.1 990.0 1145.9 997.8 1213.1 C 998.4 1240.4 997.3 1266.7 995.2 1291.9 C 992.6 1319.3 984.7 1350.8 974.2 1376.0" fill="none" stroke="#c9c9c9" stroke-width="7" filter="url(#c3)"/>
<path d="M 848.1 1019.8 C 849.4 1027.7 850.7 1034.2 853.3 1040.8 C 861.2 1051.3 870.4 1061.8 879.6 1072.3 C 890.1 1082.8 899.3 1092.0 905.9 1101.2 C 913.8 1114.3 917.7 1124.9 917.7 1135.4 C 916.9 1144.6 915.1 1151.1 911.1 1156.4 L 903.3 1164.3" fill="none" stroke="#cfcfcf" stroke-width="5" filter="url(#c3)"/>
<path d="M 958.4 1050.0 C 953.2 1046.0 947.9 1043.9 942.7 1042.1 C 926.9 1036.9 905.9 1030.3 848.1 1019.8 C 849.4 1027.7 850.7 1034.2 853.3 1040.8 C 861.2 1051.3 870.4 1061.8 879.6 1072.3 C 890.1 1082.8 899.3 1092.0 905.9 1101.2 C 913.8 1114.3 917.7 1124.9 917.7 1135.4 C 916.9 1144.6 915.1 1151.1 911.1 1156.4 L 903.3 1164.3 M 958.4 1050.0 C 974.2 1088.1 990.0 1145.9 997.8 1213.1 C 998.4 1240.4 997.3 1266.7 995.2 1291.9 C 992.6 1319.3 984.7 1350.8 974.2 1376.0 L 968.9 1381.2 L 905.9 1401.0" fill="none" stroke="#6f6f6f" stroke-width="1.2"/>
<path d="M 237.6 1193.2 L 384.7 1178.7 L 395.2 1166.9 L 422.0 1119.6 L 460.9 1098.6 L 471.4 1097.3 L 427.3 1164.3 L 422.0 1272.0 L 437.2 1332.4 L 460.9 1395.4 L 422.0 1382.3 C 384.7 1350.8 358.4 1342.9 305.9 1331.3 C 284.9 1337.6 263.9 1348.1 248.1 1360.2 C 269.1 1324.5 253.3 1298.2 245.5 1272.0 C 231.0 1219.4 232.3 1201.0 237.6 1193.2 Z" fill="#f8f8f8"/>
<path d="M 921.6 1201.0 L 869.1 1190.5 L 748.3 1182.6 L 727.3 1119.6 L 690.5 1098.6 L 677.3 1096.0 L 716.2 1166.9 L 722.0 1272.0 L 706.2 1332.4 L 674.7 1400.7 L 722.0 1386.5 C 748.3 1360.2 800.8 1344.5 869.1 1352.4 C 869.1 1337.6 890.1 1324.5 905.9 1298.2 C 929.5 1245.7 929.5 1219.4 921.6 1201.0 Z" fill="#f8f8f8"/>
<path d="M 329.5 1151.1 C 350.5 1140.6 368.9 1130.1 384.7 1122.2 C 397.8 1117.0 411.0 1113.8 418.8 1111.7 L 422.0 1119.6 L 395.2 1166.9 L 384.7 1178.7 C 358.4 1177.4 332.2 1172.1 290.1 1162.9 Z" fill="#d9d9d9" stroke="#9c9c9c" stroke-width="1.0"/>
<path d="M 722.0 1119.6 L 727.3 1114.3 C 740.4 1115.7 753.5 1119.1 764.0 1122.2 C 777.2 1128.8 789.0 1136.7 798.2 1143.2 C 806.1 1148.5 813.9 1152.4 819.2 1153.8 L 848.1 1164.3 C 827.1 1172.1 787.7 1180.0 756.2 1180.0 L 748.3 1166.9 Z" fill="#d9d9d9" stroke="#9c9c9c" stroke-width="1.0"/>
<path d="M 722.0 1119.6 L 727.3 1114.3 C 740.4 1115.7 753.5 1119.1 764.0 1122.2 M 727.3 1119.6 L 748.3 1166.9 L 756.2 1180.0 M 748.3 1182.6 L 869.1 1190.5 L 921.6 1201.0" fill="none" stroke="#6f6f6f" stroke-width="1.1"/>
<path d="M 237.6 1193.2 L 384.7 1178.7 L 395.2 1166.9 L 422.0 1119.6" fill="none" stroke="#6f6f6f" stroke-width="1.1"/>
<path d="M 248.1 1161.6 C 263.9 1153.8 277.0 1147.2 284.9 1140.6 C 292.8 1130.1 299.3 1120.9 305.9 1114.3 C 312.5 1110.4 319.0 1108.3 326.9 1106.5 L 358.4 1102.5 C 362.4 1103.3 364.2 1104.6 365.0 1106.5 C 362.4 1115.7 358.4 1123.5 353.2 1130.1 C 346.6 1138.0 338.7 1145.1 329.5 1151.1 C 317.7 1156.4 304.6 1160.3 290.1 1162.9 C 275.7 1163.7 261.2 1162.9 248.1 1161.6 Z" fill="#8b8b8b" stroke="#6a6a6a" stroke-width="1.0"/>
<path d="M 320.3 1126.2 L 336.1 1126.2" fill="none" stroke="#2f2f2f" stroke-width="2.6"/>
<path d="M 783.7 1109.1 C 785.0 1107.0 787.7 1105.7 790.3 1105.2 L 827.1 1111.7 C 835.0 1114.3 842.3 1118.0 848.1 1122.2 C 856.0 1130.1 862.5 1138.0 869.1 1145.9 C 879.6 1153.8 891.4 1159.8 903.3 1164.3 C 899.3 1166.4 894.9 1167.7 890.1 1168.2 C 875.7 1168.2 861.2 1166.9 848.1 1164.3 C 837.6 1160.8 827.6 1156.4 819.2 1151.1 C 811.3 1145.9 804.0 1139.6 798.2 1132.7 C 792.4 1127.0 787.7 1120.7 785.0 1114.3 Z" fill="#8b8b8b" stroke="#6a6a6a" stroke-width="1.0"/>
<path d="M 813.4 1130.1 L 827.6 1130.1 M 820.5 1123.0 L 820.5 1137.2" fill="none" stroke="#2f2f2f" stroke-width="2.4"/>
<path d="M 470.0 1400.0 Q 463.3 1380.0 455.1 1358.4 Q 446.8 1336.8 437.6 1311.2 Q 428.4 1285.5 423.8 1262.9 Q 419.1 1240.3 418.1 1221.8 Q 417.0 1203.3 419.6 1187.9 Q 422.2 1172.5 430.4 1157.0 Q 438.6 1141.6 455.1 1119.5 L 471.5 1097.5 C 500 1090 540 1088 570.5 1088 C 601 1088 641 1090 669.5 1097.5 L 669.5 1097.5 Q 702.4 1141.6 710.6 1157.0 Q 718.8 1172.5 721.4 1187.9 Q 724.0 1203.3 723.0 1221.8 Q 721.9 1240.3 717.2 1262.9 Q 712.6 1285.5 703.4 1311.2 Q 694.2 1336.8 686.0 1358.4 Q 677.7 1380.0 674.4 1390.0 L 671.0 1400.0 Z" fill="url(#hubg)"/>
<path d="M 424.2 1114.9 Q 401.6 1158.1 396.5 1170.4 Q 391.4 1182.7 390.4 1192.8 Q 389.5 1203.0 390.4 1213.4 Q 391.4 1223.8 395.5 1244.3 Q 399.6 1264.9 407.8 1291.6 Q 416.0 1318.3 426.3 1351.2 Q 436.6 1384.1 439.3 1392.0 L 442.0 1400.0 L 470.0 1400.0 Q 463.3 1380.0 455.1 1358.4 Q 446.8 1336.8 437.6 1311.2 Q 428.4 1285.5 423.8 1262.9 Q 419.1 1240.3 418.1 1221.8 Q 417.0 1203.3 419.6 1187.9 Q 422.2 1172.5 430.4 1157.0 Q 438.6 1141.6 455.1 1119.5 L 471.5 1097.5 Z" fill="#f1f1f1"/><path d="M 716.8 1114.9 Q 739.4 1158.1 744.5 1170.4 Q 749.6 1182.7 750.5 1192.8 Q 751.5 1203.0 750.5 1213.4 Q 749.6 1223.8 745.5 1244.3 Q 741.4 1264.9 733.2 1291.6 Q 725.0 1318.3 714.7 1351.2 Q 704.4 1384.1 701.7 1392.0 L 699.0 1400.0 L 671.0 1400.0 Q 677.7 1380.0 686.0 1358.4 Q 694.2 1336.8 703.4 1311.2 Q 712.6 1285.5 717.2 1262.9 Q 721.9 1240.3 723.0 1221.8 Q 724.0 1203.3 721.4 1187.9 Q 718.8 1172.5 710.6 1157.0 Q 702.4 1141.6 686.0 1119.5 L 669.5 1097.5 Z" fill="#f1f1f1"/>
<path d="M 424.2 1114.9 Q 401.6 1158.1 396.5 1170.4 Q 391.4 1182.7 390.4 1192.8 Q 389.5 1203.0 390.4 1213.4 Q 391.4 1223.8 395.5 1244.3 Q 399.6 1264.9 407.8 1291.6 Q 416.0 1318.3 426.3 1351.2 Q 436.6 1384.1 439.3 1392.0 L 442.0 1400.0" fill="none" stroke="#cfcfcf" stroke-width="6" filter="url(#c3)"/>
<path d="M 716.8 1114.9 Q 739.4 1158.1 744.5 1170.4 Q 749.6 1182.7 750.5 1192.8 Q 751.5 1203.0 750.5 1213.4 Q 749.6 1223.8 745.5 1244.3 Q 741.4 1264.9 733.2 1291.6 Q 725.0 1318.3 714.7 1351.2 Q 704.4 1384.1 701.7 1392.0 L 699.0 1400.0" fill="none" stroke="#cfcfcf" stroke-width="6" filter="url(#c3)"/>
<path d="M 424.2 1114.9 L 461.0 1099.0 L 471.5 1097.5 L 438.6 1141.6 L 424.0 1170.0 L 401.6 1158.1 Z" fill="url(#facg)"/>
<path d="M 716.8 1114.9 L 680.0 1099.0 L 669.5 1097.5 L 702.4 1141.6 L 717.0 1170.0 L 739.4 1158.1 Z" fill="url(#facg)"/>
<path d="M 471.5 1097.5 Q 438.6 1141.6 430.4 1157.0 Q 422.2 1172.5 419.6 1187.9 Q 417.0 1203.3 418.1 1221.8 Q 419.1 1240.3 423.8 1262.9 Q 428.4 1285.5 437.6 1311.2 Q 446.8 1336.8 455.1 1358.4 Q 463.3 1380.0 466.6 1390.0 L 470.0 1400.0" fill="none" stroke="#6f6f6f" stroke-width="1.15"/>
<path d="M 424.2 1114.9 Q 401.6 1158.1 396.5 1170.4 Q 391.4 1182.7 390.4 1192.8 Q 389.5 1203.0 390.4 1213.4 Q 391.4 1223.8 395.5 1244.3 Q 399.6 1264.9 407.8 1291.6 Q 416.0 1318.3 426.3 1351.2 Q 436.6 1384.1 439.3 1392.0 L 442.0 1400.0" fill="none" stroke="#6f6f6f" stroke-width="1.15"/>
<path d="M 669.5 1097.5 Q 702.4 1141.6 710.6 1157.0 Q 718.8 1172.5 721.4 1187.9 Q 724.0 1203.3 723.0 1221.8 Q 721.9 1240.3 717.2 1262.9 Q 712.6 1285.5 703.4 1311.2 Q 694.2 1336.8 686.0 1358.4 Q 677.7 1380.0 674.4 1390.0 L 671.0 1400.0" fill="none" stroke="#6f6f6f" stroke-width="1.15"/>
<path d="M 716.8 1114.9 Q 739.4 1158.1 744.5 1170.4 Q 749.6 1182.7 750.5 1192.8 Q 751.5 1203.0 750.5 1213.4 Q 749.6 1223.8 745.5 1244.3 Q 741.4 1264.9 733.2 1291.6 Q 725.0 1318.3 714.7 1351.2 Q 704.4 1384.1 701.7 1392.0 L 699.0 1400.0" fill="none" stroke="#6f6f6f" stroke-width="1.15"/>
<path d="M 424.2 1114.9 L 461 1099 L 471.5 1097.5 C 500 1090 540 1088 570.5 1088 C 601 1088 641 1090 669.5 1097.5 L 680 1099 L 716.8 1114.9" fill="none" stroke="#6f6f6f" stroke-width="1.15"/>
<rect x="122" y="1370" width="898" height="62" fill="#e2e2e2" opacity="0.85" filter="url(#c6)"/>
<ellipse cx="570.2" cy="1230.2" rx="84.4" ry="62.7" fill="#fbfbfb" stroke="#6e6e6e" stroke-width="1.3"/>
<ellipse cx="570.2" cy="1230.4" rx="74.8" ry="54.5" fill="none" stroke="#6e6e6e" stroke-width="1.3"/>
<path d="M 570.7 1185.0 L 534.8 1244.6 C 532.2 1251.6 535.7 1258.6 543.6 1260.3 L 616.2 1261.2 A 63.4 45.7 0 1 1 570.7 1185.0 Z" fill="#fdfdfd" stroke="#6e6e6e" stroke-width="1.3" stroke-linejoin="round"/>
<path d="M 599.6 1191.2 L 562.8 1241.1 C 561.1 1245.4 562.8 1247.2 567.2 1247.2 L 629.4 1247.2 A 63.4 45.7 0 0 0 599.6 1191.2 Z" fill="#fdfdfd" stroke="#6e6e6e" stroke-width="1.3" stroke-linejoin="round"/>
<path d="M 245.0 1208.5 C 246.0 1203.7 250.8 1199.9 258.5 1198.9 L 385.7 1191.2 L 389.5 1233.6 L 392.4 1270.2 L 400.1 1289.4 L 410.7 1318.0 L 354.9 1311.6 C 335.6 1309.1 320.2 1306.8 304.8 1303.3 C 295.1 1301.0 285.5 1297.5 277.8 1293.7 C 271.1 1289.8 266.2 1285.2 262.4 1280.2 C 257.6 1274.0 254.7 1268.2 252.7 1262.9 C 248.9 1254.8 246.6 1246.1 246.0 1237.4 Z" fill="#b9b9b9" stroke="#484848" stroke-width="2.8"/>
<path d="M 247.0 1209.5 C 247.9 1204.7 252.7 1201.2 259.5 1200.1 L 340.4 1197.0 L 346.2 1269.2 L 256.6 1265.4 C 251.8 1256.7 249.3 1249.9 248.9 1243.2 Z" fill="#979797" stroke="#484848" stroke-width="2.0" stroke-linejoin="round"/>
<path d="M 347.1 1196.0 L 384.7 1193.1 L 387.6 1231.6 L 349.5 1232.6 Z" fill="#979797" stroke="#484848" stroke-width="2.0" stroke-linejoin="round"/>
<path d="M 350.0 1235.5 L 387.6 1234.5 L 390.5 1270.2 L 352.9 1270.2 Z" fill="#979797" stroke="#484848" stroke-width="2.0" stroke-linejoin="round"/>
<path d="M 259.5 1273.1 L 351.0 1276.9 L 355.8 1309.7 C 335.6 1307.2 320.2 1305.2 304.8 1302.2 C 295.1 1299.8 285.5 1296.4 277.8 1292.5 C 272.0 1289.1 267.8 1284.8 264.3 1280.2 Z" fill="#979797" stroke="#484848" stroke-width="2.0" stroke-linejoin="round"/>
<path d="M 355.8 1277.9 L 394.3 1278.8 L 409.8 1316.4 L 361.6 1310.6 Z" fill="#979797" stroke="#484848" stroke-width="2.0" stroke-linejoin="round"/>
<path d="M 277.8 1221.6 L 310.5 1220.5 C 313.6 1220.7 315.2 1222.0 315.4 1224.7 L 315.9 1242.8 C 315.7 1245.5 314.4 1246.9 311.3 1247.1 L 278.6 1247.4 C 275.9 1247.3 274.5 1245.9 274.3 1243.2 L 273.9 1225.5 C 274.1 1223.0 275.5 1221.8 277.8 1221.6 Z" fill="#9e9e9e" stroke="#4f4f4f" stroke-width="1.5"/>
<path d="M 289.7 1210.8 L 293.2 1205.8 L 297.1 1210.8 Z M 264.3 1231.3 L 258.9 1234.3 L 264.7 1237.4 Z M 325.0 1229.7 L 330.8 1232.8 L 325.0 1236.3 Z M 292.2 1253.2 L 296.1 1259.0 L 299.4 1253.2 Z" fill="#3a3a3a"/>
<path d="M 292.8 1232.0 L 297.4 1235.9 M 297.4 1232.0 L 292.8 1235.9" fill="none" stroke="#555" stroke-width="1.4"/>
<path d="M 283.6 1286.5 L 290.3 1286.9 M 305.7 1285.6 L 310.5 1292.5 M 305.7 1292.5 L 310.5 1285.6 M 323.1 1290.4 L 333.7 1291.0 M 328.5 1287.5 L 328.5 1294.8" fill="none" stroke="#646464" stroke-width="1.4"/>
<path d="M 364.5 1203.7 L 377.0 1202.7 C 379.9 1204.7 379.5 1208.5 375.7 1209.5 L 372.2 1209.7 M 364.5 1203.7 L 368.0 1201.2 M 364.5 1203.7 L 368.3 1206.6 M 358.7 1210.5 C 357.7 1213.3 359.7 1216.2 363.5 1216.2" fill="none" stroke="#333" stroke-width="1.8"/>
<path d="M 363.5 1248.0 C 364.5 1252.8 367.4 1256.3 372.2 1257.7" fill="none" stroke="#5c5c5c" stroke-width="2.2"/>
<path d="M 374.1 1291.4 L 378.0 1298.1" fill="none" stroke="#808080" stroke-width="3.0"/>
<path d="M 753.0 1193.1 L 846.4 1198.9 L 884.9 1203.7 C 891.7 1205.6 895.5 1208.5 896.5 1212.8 C 898.0 1220.1 898.0 1226.8 897.5 1233.6 C 895.5 1243.2 893.6 1251.9 890.7 1260.5 L 884.9 1274.0 C 882.0 1281.7 878.2 1287.9 873.4 1293.3 C 866.6 1298.7 858.9 1302.2 850.3 1304.9 C 829.1 1309.1 806.9 1312.2 784.8 1314.5 L 730.8 1319.3 L 746.2 1277.9 L 752.0 1250.9 Z" fill="#b9b9b9" stroke="#484848" stroke-width="2.8"/>
<path d="M 759.7 1197.0 L 796.3 1198.9 L 794.4 1234.5 L 755.9 1234.5 Z" fill="#979797" stroke="#484848" stroke-width="2.0" stroke-linejoin="round"/>
<path d="M 754.9 1237.4 L 793.4 1237.4 L 790.5 1273.1 L 751.1 1273.1 Z" fill="#979797" stroke="#484848" stroke-width="2.0" stroke-linejoin="round"/>
<path d="M 802.1 1199.9 L 845.4 1200.8 L 840.6 1271.1 L 796.3 1273.1 Z" fill="#979797" stroke="#484848" stroke-width="2.0" stroke-linejoin="round"/>
<path d="M 851.2 1200.8 L 884.9 1204.7 C 890.7 1206.2 894.2 1209.5 895.3 1213.5 C 896.5 1220.1 896.5 1226.8 896.1 1233.6 C 894.2 1243.2 892.3 1251.9 889.8 1260.5 L 884.0 1270.2 L 844.5 1271.1 Z" fill="#979797" stroke="#484848" stroke-width="2.0" stroke-linejoin="round"/>
<path d="M 749.1 1280.8 L 787.7 1280.8 L 780.9 1313.5 L 731.8 1318.3 L 741.4 1293.3 Z" fill="#979797" stroke="#484848" stroke-width="2.0" stroke-linejoin="round"/>
<path d="M 792.5 1280.8 L 882.0 1276.9 C 879.5 1283.3 876.5 1288.3 872.4 1292.3 C 866.1 1297.5 858.4 1301.4 850.3 1303.9 C 829.1 1307.9 806.9 1311.0 785.7 1313.5 Z" fill="#979797" stroke="#484848" stroke-width="2.0" stroke-linejoin="round"/>
<path d="M 831.0 1225.9 L 865.7 1225.9 C 868.0 1226.3 868.9 1227.4 868.8 1229.7 L 867.2 1246.7 C 866.8 1249.0 865.7 1249.9 863.4 1249.9 L 830.2 1249.9 C 827.9 1249.6 827.1 1248.4 827.3 1246.3 L 827.9 1228.9 C 828.3 1227.0 829.1 1226.1 831.0 1225.9 Z" fill="#a6a6a6" stroke="#474747" stroke-width="1.5"/>
<path d="M 835.8 1237.8 L 858.9 1238.2" fill="none" stroke="#5e5e5e" stroke-width="2.6" stroke-dasharray="2.4 1.1"/>
<path d="M 753.0 1297.1 L 774.2 1297.1" fill="none" stroke="#565656" stroke-width="3.0" stroke-dasharray="2.6 1.1"/>
<path d="M 816.0 1289.8 L 810.2 1293.3 L 816.0 1297.1 M 848.0 1287.9 L 854.1 1291.4 L 848.0 1295.2" fill="none" stroke="#2f2f2f" stroke-width="2.2"/>
<path d="M 770.3 1216.2 L 783.8 1216.6 M 770.3 1214.3 L 777.1 1213.5 M 777.1 1213.5 L 784.4 1211.2 M 805.0 1206.2 L 823.3 1206.6 M 806.0 1263.4 L 816.5 1263.8 M 881.1 1211.4 L 890.7 1211.4 M 881.1 1214.3 L 890.7 1214.3 M 881.1 1217.2 L 890.7 1217.2 M 884.0 1209.5 L 887.8 1219.7" fill="none" stroke="#5a5a5a" stroke-width="1.5"/>
<path d="M 753.9 1235.5 L 784.8 1235.9" fill="none" stroke="#3c3c3c" stroke-width="2.4"/>
<path d="M 768.4 1249.0 L 769.4 1259.6 M 772.8 1248.0 L 774.0 1259.6 M 777.4 1249.9 L 777.1 1259.6 M 768.4 1259.6 L 778.0 1259.6 M 771.7 1254.8 L 775.5 1254.8" fill="none" stroke="#595959" stroke-width="1.5"/>
<path d="M 237.6 1203.0 C 237.6 1229.3 245.5 1255.5 253.3 1271.3 C 263.9 1287.1 279.6 1297.6 305.9 1308.1 C 332.2 1316.0 371.6 1321.2 422.0 1371.1 M 248.1 1350.1 C 253.3 1343.5 261.2 1339.6 269.1 1337.0 M 248.1 1350.1 C 245.5 1360.6 248.1 1376.4 253.3 1390.8 M 269.1 1337.0 C 284.9 1326.5 295.4 1322.5 305.9 1321.2 C 332.2 1326.5 350.5 1331.7 358.4 1334.3 C 384.7 1344.9 405.7 1358.0 422.0 1371.1 M 355.8 1334.3 C 355.8 1350.1 363.7 1365.9 379.4 1376.4" fill="none" stroke="#6f6f6f" stroke-width="1.1"/>
<path d="M 170.6 1365.9 L 174.5 1384.3 M 170.6 1365.9 C 182.4 1373.8 195.6 1379.0 208.7 1384.3 L 212.6 1392.1 M 208.7 1384.3 C 224.5 1388.2 240.2 1390.0 253.3 1390.8" fill="none" stroke="#9c9c9c" stroke-width="1.0"/>
<path d="M 911.1 1203.0 C 908.5 1224.0 907.2 1239.8 905.9 1255.5 C 895.4 1276.6 884.9 1294.9 869.1 1308.1 C 842.8 1318.6 821.8 1326.5 800.8 1334.3 C 779.8 1339.6 761.4 1344.9 748.3 1350.1 C 735.1 1360.6 727.3 1368.5 722.0 1376.4 M 787.7 1339.6 C 786.4 1347.5 784.5 1354.1 782.4 1360.6 C 778.5 1368.5 774.0 1375.1 769.3 1381.6 M 869.1 1342.2 C 879.6 1346.2 886.2 1349.6 890.1 1352.7 C 893.3 1359.3 894.9 1365.3 895.4 1371.1 L 892.8 1386.9 M 808.7 1350.1 C 832.3 1343.5 853.3 1341.7 869.1 1342.2 M 722.0 1397.4 C 748.3 1373.8 774.5 1360.6 808.7 1350.1" fill="none" stroke="#6f6f6f" stroke-width="1.1"/>
<path d="M 905.9 1390.8 C 929.5 1384.3 950.5 1377.7 968.9 1371.1 L 974.2 1365.9 M 968.9 1371.1 L 971.6 1384.3" fill="none" stroke="#9c9c9c" stroke-width="1.0"/>
<path d="M 237.6 1203.0 C 235.5 1195.1 235.5 1188.6 237.6 1183.0" fill="none" stroke="#6f6f6f" stroke-width="1.0"/>
<path d="M 199 1032 L 199 1233.2 L 224.4 1233.2 M 245.5 1197 L 224.4 1197 L 224.4 1267.4 L 252 1267.4" fill="none" stroke="#4a4a4a" stroke-width="1.4"/>
<path d="M 328.2 1032 L 328.2 1117" fill="none" stroke="#4a4a4a" stroke-width="1.4"/>
<path d="M 371.5 1032 L 371.5 1195.8" fill="none" stroke="#4a4a4a" stroke-width="1.4"/>
<path d="M 427.8 1032 L 427.8 1251.6 L 376.8 1251.6" fill="none" stroke="#4a4a4a" stroke-width="1.4"/>
<path d="M 718.3 1032 L 718.3 1251.6 L 762.7 1251.6" fill="none" stroke="#4a4a4a" stroke-width="1.4"/>
<path d="M 773.2 1032 L 773.2 1202" fill="none" stroke="#4a4a4a" stroke-width="1.4"/>
<path d="M 820.5 1032 L 820.5 1122" fill="none" stroke="#4a4a4a" stroke-width="1.4"/>
<path d="M 945.8 1032 L 945.8 1236.6 L 920.3 1236.6 M 896.7 1200.5 L 920.3 1200.5 L 920.3 1270.8 L 890 1270.8" fill="none" stroke="#4a4a4a" stroke-width="1.4"/>
<path d="M 308.5 1295 L 308.5 1381.6" fill="none" stroke="#4a4a4a" stroke-width="1.4"/>
<path d="M 379.4 1305.4 L 379.4 1381.6" fill="none" stroke="#4a4a4a" stroke-width="1.4"/>
<path d="M 728.6 1319.9 L 728.6 1337.5 L 886.2 1337.5 L 886.2 1279.2 M 807.4 1337.5 L 807.4 1381.6" fill="none" stroke="#4a4a4a" stroke-width="1.4"/>
<rect x="180.9" y="996.5" width="37.0" height="37.0" fill="#fff" opacity="0.55"/><rect x="182.4" y="998.0" width="34.0" height="34.0" fill="#fff" stroke="#4c4c4c" stroke-width="1.7"/><text transform="translate(199.4 1023.8) scale(0.9 1)" x="0" y="0" font-size="24.5" text-anchor="middle" fill="#3c3c3c" font-family="'Liberation Sans', sans-serif">A</text>
<rect x="310.0" y="996.5" width="37.0" height="37.0" fill="#fff" opacity="0.55"/><rect x="311.5" y="998.0" width="34.0" height="34.0" fill="#fff" stroke="#4c4c4c" stroke-width="1.7"/><text transform="translate(328.5 1023.8) scale(0.9 1)" x="0" y="0" font-size="24.5" text-anchor="middle" fill="#3c3c3c" font-family="'Liberation Sans', sans-serif">B</text>
<rect x="353.7" y="996.5" width="37.0" height="37.0" fill="#fff" opacity="0.55"/><rect x="355.2" y="998.0" width="34.0" height="34.0" fill="#fff" stroke="#4c4c4c" stroke-width="1.7"/><text transform="translate(372.2 1023.8) scale(0.9 1)" x="0" y="0" font-size="24.5" text-anchor="middle" fill="#3c3c3c" font-family="'Liberation Sans', sans-serif">A</text>
<rect x="409.5" y="996.5" width="37.0" height="37.0" fill="#fff" opacity="0.55"/><rect x="411.0" y="998.0" width="34.0" height="34.0" fill="#fff" stroke="#4c4c4c" stroke-width="1.7"/><text transform="translate(428.0 1023.8) scale(0.9 1)" x="0" y="0" font-size="24.5" text-anchor="middle" fill="#3c3c3c" font-family="'Liberation Sans', sans-serif">C</text>
<rect x="698.7" y="996.5" width="37.0" height="37.0" fill="#fff" opacity="0.55"/><rect x="700.2" y="998.0" width="34.0" height="34.0" fill="#fff" stroke="#4c4c4c" stroke-width="1.7"/><text transform="translate(717.2 1023.8) scale(0.9 1)" x="0" y="0" font-size="24.5" text-anchor="middle" fill="#3c3c3c" font-family="'Liberation Sans', sans-serif">D</text>
<rect x="755.2" y="996.5" width="37.0" height="37.0" fill="#fff" opacity="0.55"/><rect x="756.7" y="998.0" width="34.0" height="34.0" fill="#fff" stroke="#4c4c4c" stroke-width="1.7"/><text transform="translate(773.7 1023.8) scale(0.9 1)" x="0" y="0" font-size="24.5" text-anchor="middle" fill="#3c3c3c" font-family="'Liberation Sans', sans-serif">E</text>
<rect x="802.0" y="996.5" width="37.0" height="37.0" fill="#fff" opacity="0.55"/><rect x="803.5" y="998.0" width="34.0" height="34.0" fill="#fff" stroke="#4c4c4c" stroke-width="1.7"/><text transform="translate(820.5 1023.8) scale(0.9 1)" x="0" y="0" font-size="24.5" text-anchor="middle" fill="#3c3c3c" font-family="'Liberation Sans', sans-serif">B</text>
<rect x="927.5" y="996.5" width="37.0" height="37.0" fill="#fff" opacity="0.55"/><rect x="929.0" y="998.0" width="34.0" height="34.0" fill="#fff" stroke="#4c4c4c" stroke-width="1.7"/><text transform="translate(946.0 1023.8) scale(0.9 1)" x="0" y="0" font-size="24.5" text-anchor="middle" fill="#3c3c3c" font-family="'Liberation Sans', sans-serif">F</text>
<rect x="290.8" y="1380.1" width="37.0" height="37.0" fill="#fff" opacity="0.55"/><rect x="292.3" y="1381.6" width="34.0" height="34.0" fill="#fff" stroke="#4c4c4c" stroke-width="1.7"/><text transform="translate(309.3 1407.4) scale(0.9 1)" x="0" y="0" font-size="24.5" text-anchor="middle" fill="#3c3c3c" font-family="'Liberation Sans', sans-serif">G</text>
<rect x="361.2" y="1380.1" width="37.0" height="37.0" fill="#fff" opacity="0.55"/><rect x="362.7" y="1381.6" width="34.0" height="34.0" fill="#fff" stroke="#4c4c4c" stroke-width="1.7"/><text transform="translate(379.7 1407.4) scale(0.9 1)" x="0" y="0" font-size="24.5" text-anchor="middle" fill="#3c3c3c" font-family="'Liberation Sans', sans-serif">H</text>
<rect x="789.3" y="1380.1" width="37.0" height="37.0" fill="#fff" opacity="0.55"/><rect x="790.8" y="1381.6" width="34.0" height="34.0" fill="#fff" stroke="#4c4c4c" stroke-width="1.7"/><text transform="translate(807.8 1407.4) scale(0.9 1)" x="0" y="0" font-size="24.5" text-anchor="middle" fill="#3c3c3c" font-family="'Liberation Sans', sans-serif">G</text>
</g></g>
<!--/FIG2-->
<rect x="122.65" y="983.35" width="896.4" height="447.6" fill="none" stroke="#262626" stroke-width="1.5"/>
</svg>
</div>

<!--TXT-->
<svg class="txt" width="1142" height="1654" viewBox="0 0 1142 1654" style="position:absolute;left:0;top:0;filter:grayscale(1)" stroke="#1a1a1a" stroke-width="0.28" font-family="'Liberation Sans', sans-serif" fill="#1a1a1a">
<text x="843.8" y="56.6" font-size="25" textLength="105" lengthAdjust="spacingAndGlyphs" fill="#222" stroke="#222" stroke-width="0.15">Overzicht</text>
<text x="1040.3" y="61.3" font-size="34" font-weight="bold" textLength="34" lengthAdjust="spacingAndGlyphs" stroke="none">17</text>
<g>
<rect x="146.4" y="669.8" width="29.8" height="29.8" fill="#fff" stroke="#2a2a2a" stroke-width="1.4"/>
<text x="161.3" y="694.1" font-size="26.5" font-weight="bold" text-anchor="middle" textLength="14" lengthAdjust="spacingAndGlyphs" stroke-width="0.2">A</text>
<text x="192.9" y="693.8" font-size="25.5" textLength="321.5" lengthAdjust="spacingAndGlyphs">Toetsen ergonomisch geheugen</text>
<line x1="524.0" y1="692.9" x2="902.1" y2="692.9" stroke="#1a1a1a" stroke-width="2.8" stroke-dasharray="2.6 1.86"/>
<text x="907.1" y="693.8" font-size="25.5" textLength="37.2" lengthAdjust="spacingAndGlyphs">Blz.</text>
<text x="947.6" y="693.8" font-size="25.5" textLength="40.4" lengthAdjust="spacingAndGlyphs">189</text>
</g>
<g>
<rect x="146.4" y="723.1" width="29.8" height="29.8" fill="#fff" stroke="#2a2a2a" stroke-width="1.4"/>
<text x="161.3" y="747.4" font-size="26.5" font-weight="bold" text-anchor="middle" textLength="14" lengthAdjust="spacingAndGlyphs" stroke-width="0.2">B</text>
<text x="193.3" y="747.1" font-size="25.5" textLength="274.5" lengthAdjust="spacingAndGlyphs">Schakelaars buitenspiegels</text>
<line x1="473.0" y1="746.2" x2="907.0" y2="746.2" stroke="#1a1a1a" stroke-width="2.8" stroke-dasharray="2.6 1.86"/>
<text x="908.7" y="747.1" font-size="25.5" textLength="37.3" lengthAdjust="spacingAndGlyphs">Blz.</text>
<text x="949.3" y="747.1" font-size="25.5" textLength="38.7" lengthAdjust="spacingAndGlyphs">196</text>
</g>
<g>
<rect x="146.4" y="776.4" width="29.8" height="29.8" fill="#fff" stroke="#2a2a2a" stroke-width="1.4"/>
<text x="161.3" y="800.7" font-size="26.5" font-weight="bold" text-anchor="middle" textLength="14" lengthAdjust="spacingAndGlyphs" stroke-width="0.2">C</text>
<text x="193.3" y="800.4" font-size="25.5" textLength="359.5" lengthAdjust="spacingAndGlyphs">Schakelaars centrale vergrendeling</text>
<line x1="554.7" y1="799.5" x2="907.0" y2="799.5" stroke="#1a1a1a" stroke-width="2.8" stroke-dasharray="2.6 1.86"/>
<text x="908.7" y="800.4" font-size="25.5" textLength="37.3" lengthAdjust="spacingAndGlyphs">Blz.</text>
<text x="948.8" y="800.4" font-size="25.5" textLength="39.2" lengthAdjust="spacingAndGlyphs">146</text>
</g>
<g>
<rect x="146.4" y="829.7" width="29.8" height="29.8" fill="#fff" stroke="#2a2a2a" stroke-width="1.4"/>
<text x="161.3" y="854.0" font-size="26.5" font-weight="bold" text-anchor="middle" textLength="14" lengthAdjust="spacingAndGlyphs" stroke-width="0.2">D</text>
<text x="193.8" y="853.7" font-size="25.5" textLength="342.8" lengthAdjust="spacingAndGlyphs">Blokkeerschakelaar ruitbediening</text>
<line x1="539.0" y1="852.8" x2="901.6" y2="852.8" stroke="#1a1a1a" stroke-width="2.8" stroke-dasharray="2.6 1.86"/>
<text x="906.4" y="853.7" font-size="25.5" textLength="37.4" lengthAdjust="spacingAndGlyphs">Blz.</text>
<text x="945.3" y="853.7" font-size="25.5" textLength="42.7" lengthAdjust="spacingAndGlyphs">201</text>
</g>
<g>
<rect x="146.4" y="883.0" width="29.8" height="29.8" fill="#fff" stroke="#2a2a2a" stroke-width="1.4"/>
<text x="161.3" y="907.3" font-size="26.5" font-weight="bold" text-anchor="middle" textLength="14" lengthAdjust="spacingAndGlyphs" stroke-width="0.2">E</text>
<text x="193.3" y="907.0" font-size="25.5" textLength="264.5" lengthAdjust="spacingAndGlyphs">Schakelaars ruitbediening</text>
<line x1="462.4" y1="906.1" x2="902.0" y2="906.1" stroke="#1a1a1a" stroke-width="2.8" stroke-dasharray="2.6 1.86"/>
<text x="907.9" y="907.0" font-size="25.5" textLength="37.2" lengthAdjust="spacingAndGlyphs">Blz.</text>
<text x="948.3" y="907.0" font-size="25.5" textLength="39.7" lengthAdjust="spacingAndGlyphs">199</text>
</g>
<g>
<rect x="146.4" y="1450.3" width="29.8" height="29.8" fill="#fff" stroke="#2a2a2a" stroke-width="1.4"/>
<text x="161.3" y="1474.9" font-size="26.5" font-weight="bold" text-anchor="middle" textLength="14" lengthAdjust="spacingAndGlyphs" stroke-width="0.2">A</text>
<text x="193.7" y="1474.6" font-size="25.5" textLength="396.5" lengthAdjust="spacingAndGlyphs">Bedieningstoetsen instrumentenpaneel</text>
<line x1="596.3" y1="1473.7" x2="902.0" y2="1473.7" stroke="#1a1a1a" stroke-width="2.8" stroke-dasharray="2.6 1.86"/>
<text x="906.7" y="1474.6" font-size="25.5" textLength="37.8" lengthAdjust="spacingAndGlyphs">Blz.</text>
<text x="947.1" y="1474.6" font-size="25.5" textLength="40.9" lengthAdjust="spacingAndGlyphs">123</text>
</g>
<g>
<rect x="146.4" y="1503.7" width="29.8" height="29.8" fill="#fff" stroke="#2a2a2a" stroke-width="1.4"/>
<text x="161.3" y="1528.2" font-size="26.5" font-weight="bold" text-anchor="middle" textLength="14" lengthAdjust="spacingAndGlyphs" stroke-width="0.2">B</text>
<text x="193.7" y="1527.9" font-size="25.5" textLength="242.1" lengthAdjust="spacingAndGlyphs">Paddle shift-schakelaars</text>
<line x1="441.0" y1="1527.0" x2="896.1" y2="1527.0" stroke="#1a1a1a" stroke-width="2.8" stroke-dasharray="2.6 1.86"/>
<text x="900.4" y="1527.9" font-size="25.5" textLength="37.8" lengthAdjust="spacingAndGlyphs">Blz.</text>
<text x="941.8" y="1527.9" font-size="25.5" textLength="46.2" lengthAdjust="spacingAndGlyphs">222</text>
</g>
<text x="514.8" y="682.5" font-size="15.5" fill="#1a1a1a" stroke="none">*</text>
<text x="106.3" y="938.2" font-size="15.5" fill="#333" stroke="none">*</text>
<text x="113.5" y="951.5" font-size="24" fill="#333" stroke="none">:</text>
<text x="130" y="951.5" font-size="24.5" textLength="158" lengthAdjust="spacingAndGlyphs" fill="#333" stroke="none">Indien aanwezig</text>
</svg>
<!--/TXT-->
</body>
</html>
